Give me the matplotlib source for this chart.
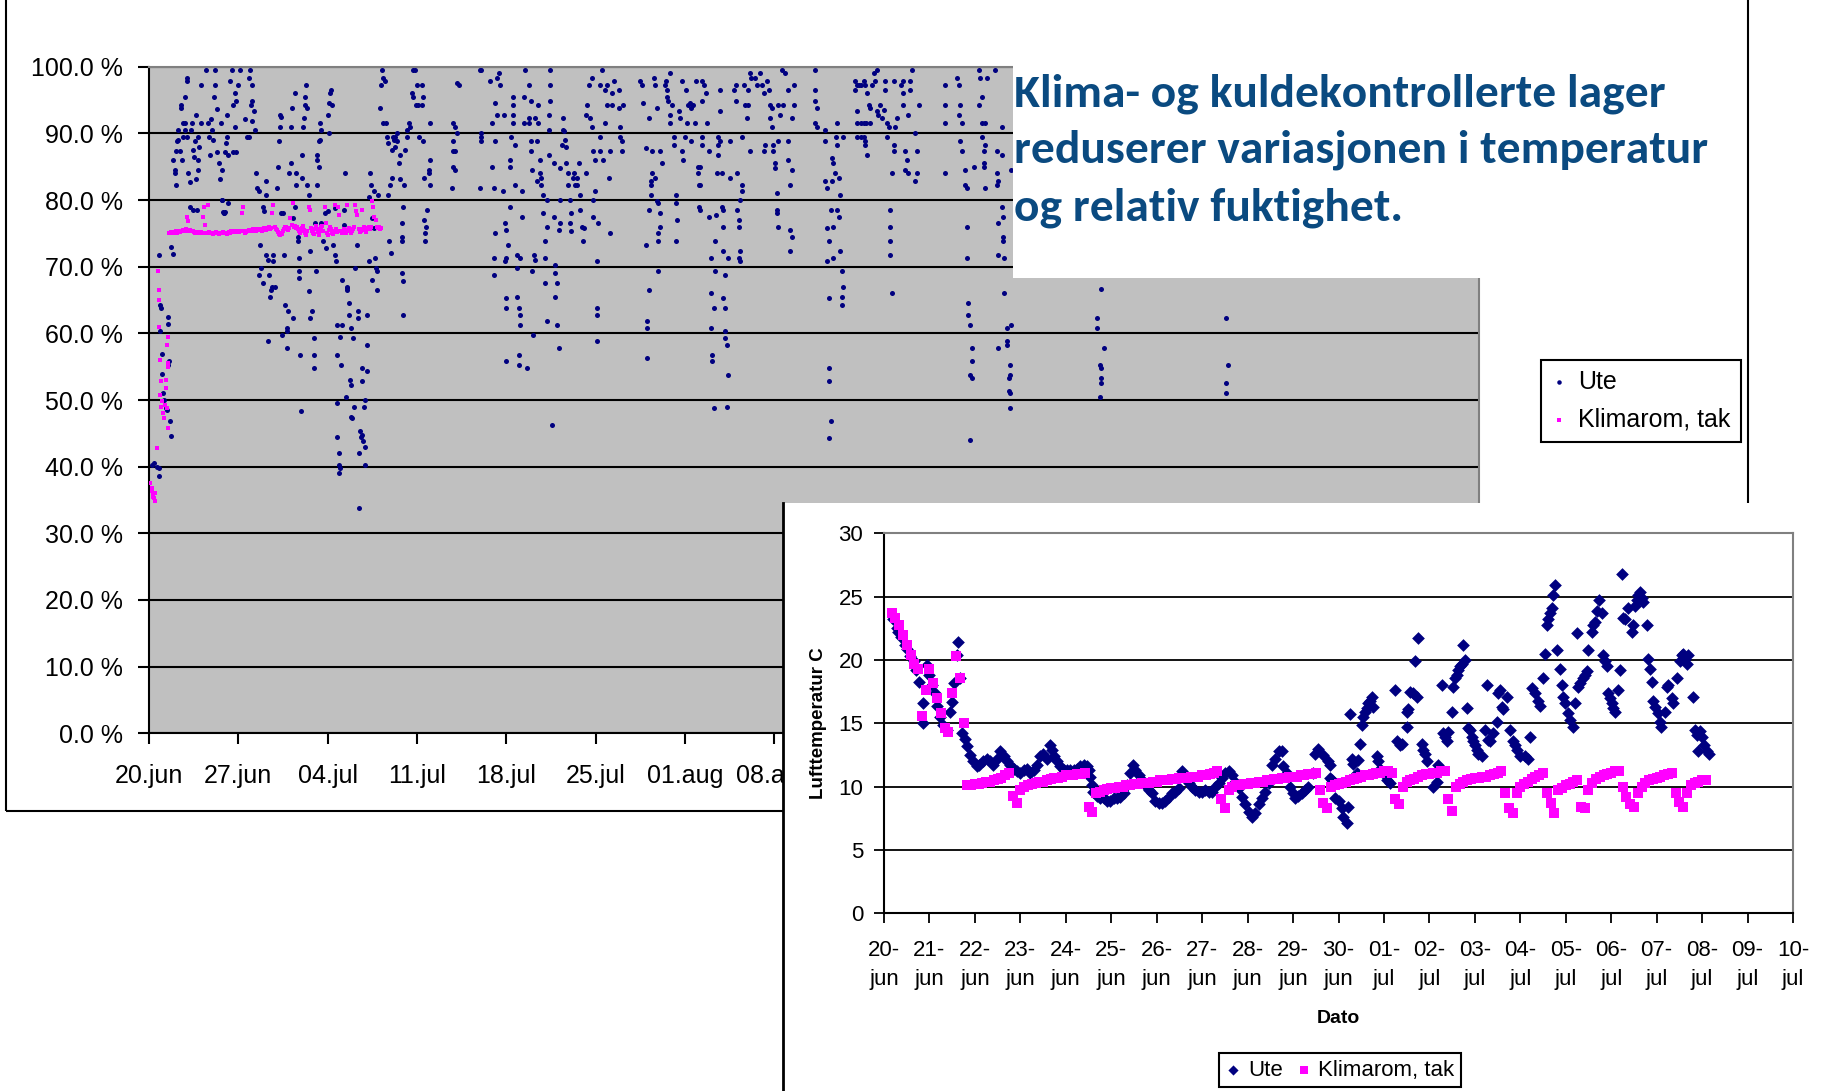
import matplotlib
matplotlib.use("Agg")
import matplotlib.pyplot as plt
from matplotlib import font_manager
from matplotlib.patches import Rectangle
from matplotlib.ticker import FuncFormatter
from matplotlib.transforms import Bbox
import numpy as np

W, H = 1825, 1091
NAVY = "#000080"
PINK = "#FF00FF"
TITLE_BLUE = "#0A4A80"

plt.rcParams["font.family"] = ["Liberation Sans", "DejaVu Sans"]

# --- relativ fuktighet, Ute: (dager etter 20.jun, %) ---
ute_rh_jun = [
    (0.2, 40.2), (0.4, 40.5), (0.6, 40.0), (0.8, 39.8), (0.8, 38.6), (0.8, 71.8), (0.85, 64.2), (0.95, 63.8),
    (0.9, 60.4), (1.05, 56.9), (1.05, 53.9), (1.1, 51.1), (1.2, 50.0), (1.3, 48.8), (1.4, 48.5), (1.5, 62.4),
    (1.45, 61.4), (1.55, 55.9), (1.5, 55.3), (1.65, 46.9), (1.7, 44.6), (1.7, 72.9), (1.85, 71.9), (1.9, 86.0),
    (2.0, 84.5), (2.05, 84.0), (2.1, 82.3), (2.1, 87.4), (2.2, 88.8), (2.3, 90.5), (2.3, 89.0), (2.4, 87.3),
    (2.5, 93.8), (2.5, 94.3), (2.55, 86.0), (2.65, 89.5), (2.7, 91.5), (2.8, 90.5), (2.85, 91.5), (2.95, 89.5),
    (3.0, 98.3), (3.0, 97.8), (2.85, 95.5), (3.05, 84.0), (3.2, 82.7), (3.3, 90.5), (3.4, 91.5), (3.45, 87.5),
    (3.55, 86.5), (3.6, 88.8), (3.65, 92.8), (3.65, 83.2), (3.8, 86.0), (3.85, 84.5), (3.85, 89.5), (3.9, 88.0),
    (4.05, 97.2), (4.1, 91.5), (4.5, 99.5), (4.65, 91.5), (4.7, 89.5), (4.8, 86.7), (4.85, 92.2), (4.9, 90.5),
    (5.05, 89.0), (5.1, 95.5), (5.2, 97.2), (5.2, 99.5), (5.3, 93.7), (5.35, 87.2), (5.5, 85.5), (5.55, 83.2),
    (5.65, 91.5), (5.7, 84.5), (5.75, 80.0), (5.8, 78.2), (5.9, 78.0), (5.95, 87.2), (6.05, 88.5), (6.1, 92.8),
    (6.15, 89.5), (6.2, 86.7), (6.35, 97.8), (6.5, 99.5), (6.55, 94.3), (6.6, 87.2), (6.7, 91.0), (6.75, 96.0),
    (6.8, 94.8), (6.85, 87.2), (6.95, 97.2), (7.1, 99.5), (7.5, 92.2), (7.65, 89.5), (7.8, 89.5), (7.85, 98.3),
    (7.9, 99.5), (8.0, 94.3), (8.05, 97.2), (8.1, 94.8), (8.2, 93.3), (8.1, 91.8), (8.3, 90.5), (3.2, 79.0),
    (3.45, 78.5), (3.75, 78.5), (5.7, 80.0), (5.85, 78.0), (5.95, 78.2), (6.2, 79.5),
    (8.35, 84.0), (8.5, 81.8), (8.6, 81.3), (8.7, 73.3), (8.8, 69.8), (8.6, 68.8), (8.9, 67.5), (8.95, 79.0),
    (9.0, 78.3), (9.15, 82.8), (9.2, 80.8), (9.2, 71.8), (9.35, 71.0), (9.4, 68.8), (9.35, 58.8), (9.55, 66.5),
    (9.5, 65.5), (9.6, 67.0), (9.75, 71.8), (9.75, 70.8), (9.9, 67.0), (10.0, 81.8), (10.1, 85.0), (10.2, 88.8),
    (10.3, 91.0), (10.3, 92.8), (10.35, 92.5), (10.35, 78.0), (10.45, 59.8), (10.5, 78.0), (10.55, 71.8),
    (10.65, 64.3), (10.8, 60.8), (10.85, 60.3), (10.9, 63.3), (10.85, 57.8), (10.95, 84.0),
]

ute_rh_jul = [
    (11.1, 91.0), (11.1, 85.5), (11.2, 93.8), (11.25, 77.3), (11.3, 62.3), (11.4, 96.0), (11.45, 79.0),
    (11.55, 84.0), (11.55, 82.3), (11.65, 74.5), (11.7, 73.8), (11.75, 71.3), (11.75, 69.3), (11.75, 68.3),
    (11.85, 56.8), (11.9, 48.3), (11.95, 83.3), (12.0, 86.8), (12.1, 91.0), (12.15, 92.3), (12.25, 94.3),
    (12.25, 95.5), (12.3, 97.3), (12.35, 93.8), (12.4, 82.3), (12.5, 66.3), (12.55, 80.8), (12.6, 72.3),
    (12.65, 62.3), (12.75, 63.3), (12.9, 59.3), (12.95, 56.8), (12.95, 54.8), (13.0, 76.5), (13.05, 69.3),
    (13.15, 86.8), (13.2, 86.0), (13.3, 85.0), (13.2, 82.3), (13.3, 88.8), (13.4, 89.0), (13.4, 91.5),
    (13.45, 90.5), (13.45, 76.5), (13.65, 73.8), (13.8, 78.0), (13.85, 72.8), (14.0, 78.3), (14.05, 92.8),
    (14.1, 94.5), (14.2, 96.0), (14.25, 96.5), (14.3, 94.3), (14.1, 90.0), (14.45, 73.3), (14.6, 71.8),
    (14.65, 70.8), (14.6, 78.8), (14.7, 61.3), (14.7, 56.8), (14.75, 49.5), (14.75, 44.5), (14.85, 42.0),
    (14.9, 40.3), (14.9, 39.0), (14.95, 39.8), (14.95, 59.5), (15.05, 55.3), (15.1, 68.0), (15.15, 61.3),
    (15.3, 76.3), (15.3, 78.5), (15.35, 84.0), (15.4, 50.5), (15.5, 66.5), (15.5, 67.0), (15.55, 66.8),
    (15.65, 64.5), (15.65, 62.8), (15.75, 53.0), (15.8, 60.8), (15.85, 52.3), (15.85, 47.5), (15.9, 47.3),
    (15.95, 59.3), (16.05, 49.0), (16.15, 69.8), (16.3, 73.3), (16.35, 63.3), (16.4, 62.3), (16.45, 42.0),
    (16.45, 33.8), (16.5, 45.3), (16.6, 44.5), (16.65, 44.8), (16.7, 54.8), (16.7, 52.8), (16.75, 43.8),
    (16.85, 49.0), (16.9, 40.3), (16.9, 50.0), (16.95, 43.0), (17.05, 62.8), (17.05, 54.3), (17.1, 58.3),
    (17.2, 70.8), (17.25, 80.5), (17.3, 84.0), (17.4, 82.3), (17.45, 68.0), (17.5, 77.3), (17.6, 81.3),
    (17.65, 75.8), (17.7, 71.3), (17.75, 69.8), (17.85, 66.5), (17.9, 69.3), (17.95, 80.8), (18.1, 93.8),
    (18.15, 97.3), (18.25, 99.5), (18.3, 98.3), (18.35, 91.5), (18.5, 97.8), (18.55, 91.5), (18.65, 89.5),
    (18.7, 88.5), (18.75, 80.8), (18.8, 73.8), (18.9, 82.3), (18.95, 72.0), (19.0, 83.3), (19.05, 87.5),
    (19.15, 89.5), (19.2, 89.0), (19.25, 89.5), (19.3, 88.0), (19.4, 90.0), (19.45, 88.8), (19.55, 85.5),
    (19.65, 86.8), (19.65, 83.2), (19.85, 69.0), (19.9, 67.8), (19.9, 62.8), (19.9, 79.0), (19.8, 76.5),
    (19.8, 74.5), (19.8, 73.8), (20.0, 82.3), (20.05, 87.5), (20.2, 89.5), (20.25, 90.5), (20.35, 91.5),
    (20.45, 91.0), (20.6, 96.0), (20.65, 95.5), (20.7, 99.5), (20.85, 99.5), (20.9, 94.3), (21.0, 97.3),
    (21.1, 94.3), (21.15, 89.5),
    (21.35, 97.3), (21.45, 95.5), (21.35, 94.3), (21.5, 88.8), (21.55, 83.3), (21.8, 78.5), (21.55, 77.0),
    (21.7, 76.0), (21.6, 75.0), (21.6, 73.8), (21.9, 84.0), (21.95, 84.5), (22.0, 82.3), (22.0, 86.0),
    (22.0, 91.5), (23.7, 81.8), (23.85, 88.8), (23.85, 87.3), (24.0, 87.3), (23.85, 85.0), (24.0, 84.5),
    (23.85, 91.5), (24.0, 91.0), (24.1, 90.0), (24.15, 97.5), (24.25, 97.3), (25.95, 81.8), (26.0, 89.5),
    (26.05, 90.0), (26.05, 88.8), (25.95, 99.5), (26.05, 99.5), (26.7, 97.8), (26.85, 91.5), (26.85, 85.0),
    (27.0, 81.8), (27.0, 71.3), (27.0, 68.8), (27.1, 94.5), (27.25, 92.8), (27.3, 98.3), (27.4, 99.0),
    (27.5, 97.3), (27.1, 75.0), (27.1, 88.8), (27.75, 81.3), (27.8, 92.8), (27.9, 76.5), (27.9, 70.8),
    (28.0, 71.3), (28.0, 65.3), (28.0, 63.8), (28.0, 75.5), (28.0, 55.8), (28.15, 73.3), (28.3, 79.0),
    (28.3, 86.0), (28.3, 85.0), (28.4, 89.5), (28.5, 94.3), (28.55, 95.5), (28.55, 92.8), (28.55, 91.5),
    (28.7, 88.3), (28.7, 82.3), (28.8, 71.8), (28.8, 69.8), (28.8, 65.5), (28.95, 63.8), (28.95, 56.8),
    (28.95, 55.3), (29.1, 62.8), (29.1, 61.3), (29.1, 71.3), (29.2, 77.5), (29.2, 81.3), (29.35, 91.5),
    (29.35, 95.5), (29.45, 99.5), (29.6, 54.8), (29.75, 91.5), (29.75, 92.3), (29.75, 97.3), (29.9, 94.8),
    (29.9, 88.8), (29.9, 87.3), (30.0, 69.3), (30.0, 84.5), (30.1, 59.8), (30.2, 71.8), (30.25, 71.0),
    (30.25, 92.3), (30.4, 88.8), (30.4, 82.8), (30.5, 94.3), (30.5, 91.5), (30.65, 86.0), (30.65, 84.0),
    (30.7, 83.3), (30.75, 82.3), (30.9, 80.8), (30.9, 78.0), (31.0, 73.8), (31.0, 71.3), (31.0, 67.5),
    (31.15, 76.0), (31.15, 61.8), (31.15, 80.0), (31.3, 86.8), (31.3, 90.5), (31.3, 92.8), (31.4, 97.3),
    (31.4, 99.5), (31.4, 94.8), (31.55, 46.3), (31.7, 77.5), (31.7, 85.5), (31.8, 70.3), (31.8, 69.0),
    (31.8, 65.5), (31.95, 67.5), (31.95, 61.3), (32.1, 57.8), (32.1, 75.5), (32.2, 76.5), (32.2, 80.0),
    (32.2, 84.8), (32.35, 88.3), (32.45, 92.3), (32.45, 90.5), (32.5, 90.3), (32.6, 89.0), (32.7, 88.0),
    (32.7, 85.5), (32.85, 84.0), (32.85, 82.3), (32.95, 80.0), (33.0, 76.5), (33.1, 75.3), (33.1, 78.0),
    (33.25, 83.3), (33.3, 84.0), (33.35, 82.3), (33.5, 83.3), (33.55, 82.3), (33.65, 85.5), (33.8, 80.8),
    (33.8, 78.5), (33.9, 76.0), (34.0, 73.8), (34.05, 75.8), (34.2, 84.0), (34.25, 92.8), (34.3, 94.3),
    (34.45, 97.3), (34.55, 92.3), (34.7, 91.0), (34.7, 98.3), (34.8, 87.3), (34.8, 80.0), (34.8, 77.5),
    (34.95, 86.0), (34.95, 81.3), (35.1, 70.8), (35.1, 63.8), (35.1, 62.8), (35.1, 58.8), (35.2, 76.5),
    (35.35, 87.3), (35.35, 89.5), (35.35, 97.3), (35.5, 99.5), (35.6, 86.0), (35.75, 96.5), (35.75, 91.5),
    (35.85, 94.3), (35.9, 97.3), (36.0, 83.3), (36.1, 87.3), (36.15, 75.0), (36.25, 96.0), (36.25, 94.3),
    (36.4, 97.8), (36.8, 96.5), (36.8, 93.8), (36.9, 91.0), (36.9, 89.5), (37.05, 88.8), (37.05, 87.3),
    (37.15, 94.3),
    (38.5, 97.8), (38.6, 97.3), (38.7, 94.5), (38.9, 87.8), (38.9, 73.3), (39.0, 61.8), (39.0, 60.8),
    (39.0, 56.3), (39.15, 92.3), (39.15, 66.5), (39.2, 78.5), (39.3, 82.8), (39.3, 82.3), (39.3, 80.8),
    (39.4, 84.0), (39.4, 87.3), (39.55, 98.3), (39.65, 97.3), (39.65, 83.3), (39.8, 93.8), (39.8, 79.8),
    (39.85, 79.5), (39.9, 73.8), (39.9, 75.0), (39.9, 69.3), (40.05, 87.3), (40.05, 76.0), (40.05, 78.0),
    (40.2, 85.5), (40.45, 97.3), (40.5, 97.8), (40.55, 96.5), (40.6, 95.5), (40.7, 94.8), (40.8, 99.0),
    (40.8, 92.8), (40.8, 91.5), (40.95, 94.3), (41.1, 89.5), (41.1, 88.3), (41.25, 80.8), (41.25, 79.5),
    (41.35, 77.0), (41.25, 73.8), (41.5, 93.3), (41.6, 92.3), (41.75, 87.3), (41.75, 97.8), (41.85, 86.0),
]

ute_rh_aug_sep = [
    (42.0, 89.5), (42.1, 96.5), (42.15, 91.5), (42.25, 94.3), (42.4, 94.5), (42.5, 93.8), (42.5, 88.8),
    (42.65, 94.3), (42.8, 91.5), (42.85, 97.8), (43.05, 84.0), (43.05, 85.0), (43.1, 82.3), (43.1, 79.0),
    (43.3, 97.8), (43.45, 97.3), (43.6, 96.0), (43.3, 94.8), (43.7, 91.5), (43.3, 89.5), (43.3, 88.3),
    (43.2, 85.0), (43.2, 82.3), (43.2, 78.5), (43.85, 87.3), (43.85, 77.5), (44.0, 71.3), (44.0, 66.0),
    (44.0, 60.8), (44.1, 56.8), (44.1, 55.8), (44.25, 48.8), (44.25, 63.8), (44.35, 73.8), (44.35, 69.3),
    (44.45, 77.8), (44.5, 84.0), (44.6, 89.5), (44.6, 88.3), (44.6, 86.8), (44.75, 96.5), (44.75, 93.3),
    (44.75, 88.8), (44.9, 84.0), (44.9, 79.0), (45.0, 78.5), (45.0, 76.0), (45.0, 72.3), (45.0, 65.3),
    (45.15, 63.8), (45.15, 68.8), (45.15, 60.3), (45.15, 59.3), (45.25, 58.3), (45.25, 49.0), (45.4, 71.3),
    (45.4, 53.8), (45.55, 88.8), (45.55, 83.3), (45.8, 96.5), (45.95, 94.8), (45.95, 97.3), (46.05, 84.0),
    (46.05, 78.5), (46.2, 77.0), (46.2, 76.0), (46.2, 71.3), (46.3, 70.8), (46.3, 72.3), (46.3, 80.0),
    (46.45, 81.3), (46.45, 82.3), (46.45, 89.5), (46.6, 97.3), (46.7, 94.3), (46.85, 92.3), (46.95, 94.3),
    (46.95, 96.5), (47.1, 99.0), (47.1, 87.3), (47.2, 98.3), (47.5, 98.3), (47.6, 97.3), (47.9, 99.0),
    (48.0, 97.3), (48.15, 96.0), (48.15, 87.3), (48.3, 88.3), (48.4, 97.8), (48.55, 96.5), (48.65, 94.3),
    (48.65, 92.3), (48.8, 93.8), (48.8, 91.0), (48.9, 88.3), (48.9, 87.3), (49.05, 85.5), (49.05, 84.8),
    (49.2, 81.0), (49.2, 78.5), (49.2, 78.0), (49.3, 94.3), (49.3, 88.8), (49.3, 76.0), (49.45, 92.8),
    (49.6, 99.5), (49.7, 94.3), (49.85, 99.0), (50.1, 96.5), (50.1, 88.8), (50.1, 86.0), (50.25, 82.3),
    (50.25, 75.5), (50.35, 84.5), (50.35, 74.5), (50.25, 72.3), (50.5, 97.3), (50.5, 94.3), (50.35, 92.3),
    (52.2, 99.5), (52.2, 96.5), (52.2, 94.8), (52.3, 93.8), (52.2, 91.5), (52.35, 91.0), (52.95, 90.5),
    (52.95, 88.8), (52.95, 82.8), (53.1, 81.8), (53.1, 75.8), (53.1, 70.8), (53.25, 73.8), (53.25, 65.3),
    (53.25, 54.8), (53.25, 52.8), (53.4, 46.8), (53.25, 44.3), (53.4, 78.5), (53.5, 86.3), (53.5, 82.8),
    (53.6, 85.5), (53.6, 76.0), (53.6, 71.3), (53.75, 84.0), (53.85, 89.5), (53.9, 91.5), (53.9, 88.3),
    (53.9, 78.5), (54.05, 83.3), (54.05, 77.5), (54.15, 80.8), (54.15, 72.3), (54.3, 69.3), (54.3, 65.5),
    (54.3, 64.3), (54.4, 89.5), (54.4, 67.0), (55.3, 97.8), (55.45, 97.3), (55.6, 97.3), (55.75, 97.3),
    (56.0, 97.8), (56.1, 97.3), (55.3, 96.5), (55.45, 93.3), (55.45, 91.5), (55.75, 91.5), (56.0, 91.5),
    (56.2, 91.5), (56.5, 91.5), (55.45, 89.5), (55.75, 89.5), (56.0, 89.5), (56.1, 88.8), (56.1, 88.3),
    (56.25, 86.8), (56.25, 96.0), (56.4, 94.3), (56.5, 93.8), (56.65, 97.3), (56.8, 99.0), (56.9, 97.8),
    (57.0, 99.5), (57.0, 93.3), (57.15, 92.8), (57.3, 94.3), (57.4, 92.3), (57.55, 93.5), (57.7, 96.5),
    (57.7, 97.8), (57.8, 91.5), (57.95, 91.0), (57.8, 89.5), (58.05, 78.5), (58.05, 76.0), (58.05, 73.8),
    (58.05, 71.8), (58.2, 66.0), (58.2, 84.0), (58.35, 97.8), (58.35, 88.3), (58.35, 87.3), (58.45, 91.0),
    (58.6, 92.3), (58.9, 97.3), (59.1, 97.8), (59.1, 96.0), (59.1, 94.3), (59.25, 87.3), (59.25, 84.5),
    (59.4, 86.0), (59.5, 92.8), (59.5, 84.0), (59.65, 97.8), (59.65, 96.5), (59.8, 99.5), (60.05, 90.0),
    (60.2, 87.3), (60.2, 84.0), (60.05, 82.8), (60.3, 94.3),
    (62.4, 97.3), (62.4, 94.3), (62.4, 91.5), (62.4, 84.0), (63.3, 98.3), (63.45, 97.3), (63.55, 94.3),
    (63.45, 92.8), (63.7, 91.5), (63.55, 88.8), (63.7, 87.3), (63.95, 84.5), (63.95, 82.3), (64.1, 81.8),
    (64.1, 76.0), (64.1, 71.3), (64.2, 64.5), (64.2, 62.8), (64.35, 61.3), (64.45, 57.8), (64.45, 55.8),
    (64.35, 53.8), (64.45, 53.3), (64.35, 44.0), (64.6, 85.0), (65.0, 99.5), (65.1, 98.3), (65.25, 95.5),
    (65.0, 94.3), (65.25, 91.5), (65.5, 91.5), (65.25, 89.5), (65.5, 88.3), (65.4, 87.3), (65.4, 85.5),
    (65.4, 85.0), (65.5, 81.8), (65.65, 98.3), (66.3, 99.5), (66.4, 87.3), (66.8, 86.8), (66.8, 91.0),
    (66.4, 84.0), (66.4, 82.3), (66.55, 82.8), (66.55, 76.5), (66.8, 79.0), (66.9, 77.5), (66.9, 74.5),
    (66.9, 73.8), (66.55, 71.8), (67.0, 71.3), (67.0, 66.0), (67.2, 60.8), (67.55, 61.3), (67.2, 58.8),
    (67.2, 58.3), (66.55, 57.8), (67.45, 55.3), (67.35, 53.3), (67.45, 53.8), (67.35, 51.3), (67.45, 51.0),
    (67.45, 48.8), (67.5, 84.5),
    (74.6, 66.6), (74.3, 62.3), (74.3, 60.8), (74.8, 57.8), (74.5, 55.2), (74.55, 54.8), (74.6, 53.3),
    (74.6, 52.6), (74.5, 50.5), (84.4, 62.3), (84.5, 55.3), (84.4, 52.5), (84.4, 51.0),
]

# --- relativ fuktighet, Klimarom tak ---
# forste doegn (dag, %)
klima_rh_start = [
    (0.1, 37.5), (0.2, 36.8), (0.25, 36.3), (0.3, 35.8), (0.35, 35.5), (0.4, 35.3), (0.45, 34.8), (0.5, 36.0),
    (0.6, 42.8), (0.7, 69.4), (0.75, 66.5), (0.75, 65.0), (0.75, 61.0), (0.85, 56.0), (0.85, 50.8), (0.95, 52.8),
    (0.95, 49.0), (1.0, 49.8), (1.1, 48.0), (1.2, 47.3), (1.25, 49.3), (1.3, 53.0), (1.3, 51.8), (1.4, 58.3),
    (1.4, 48.8), (1.45, 59.5), (1.45, 55.5), (1.5, 55.0), (1.5, 45.8),
]
# deretter hver 2. time fra dag 1.58
klima_rh_t0 = 1.5 + 1 / 12
klima_rh = [
    75.1, 75.0, 75.2, 75.1, 75.0, 75.2, 75.3, 75.1, 75.2, 75.3, 75.2, 75.4,
    75.3, 75.5, 75.4, 75.3, 75.6, 77.5, 76.8, 75.4, 75.5, 75.3, 75.4, 75.2,
    75.1, 75.0, 75.2, 75.1, 75.0, 75.1, 75.2, 75.0, 77.5, 79.0, 76.3, 75.1,
    79.3, 75.2, 75.0, 75.1, 75.0, 74.9, 75.1, 75.0, 75.2, 75.1, 75.0, 74.9,
    75.0, 75.1, 75.0, 75.2, 75.1, 75.0, 74.9, 75.1, 75.2, 75.1, 75.3, 75.2,
    75.3, 75.4, 75.2, 75.3, 75.4, 75.3, 75.2, 75.4, 78.0, 79.0, 75.3, 75.1,
    75.2, 75.4, 75.3, 75.5, 75.4, 75.3, 75.5, 75.6, 75.4, 75.5, 75.3, 75.6,
    75.5, 75.7, 75.6, 75.4, 75.7, 75.8, 75.6, 75.5, 75.8, 75.7, 75.9, 75.6,
    75.8, 78.0, 79.3, 75.9, 75.7, 75.5, 75.2, 74.9, 74.8, 75.1, 74.9, 75.3,
    75.6, 75.9, 76.0, 75.7, 75.5, 75.8, 77.3, 76.2, 79.5, 75.9, 76.1, 75.8,
    76.0, 75.6, 75.3, 75.0, 75.4, 75.8, 76.1, 75.5, 75.0, 74.8, 75.3, 79.0,
    78.5, 75.8, 75.4, 75.0, 74.9, 75.6, 76.1, 75.7, 75.2, 74.8, 75.3, 75.9,
    76.1, 75.4, 79.0, 76.5, 75.0, 74.8, 75.5, 76.0, 75.6, 75.0, 74.9, 75.4,
    79.3, 75.6, 75.2, 79.0, 77.8, 75.4, 75.0, 75.2, 75.6, 75.3, 75.1, 79.3,
    75.5, 75.8, 75.3, 75.0, 75.4, 75.7, 76.0, 79.3, 78.3, 77.8, 75.6, 75.2,
    75.4, 78.5, 75.6, 75.9, 75.5, 75.2, 75.6, 75.8, 76.0, 75.7, 75.9, 79.8,
    79.0, 77.5, 77.0, 76.0, 75.8, 75.9, 75.7, 75.8,
]

# --- lufttemperatur, Ute: (dag, grader C) ---
ute_temp = [
    (0.2, 23.2), (0.28, 22.5), (0.3, 22.2), (0.38, 21.8), (0.46, 21.2), (0.5, 20.9), (0.57, 20.3), (0.65, 19.9),
    (0.7, 19.2), (0.78, 18.3), (0.85, 16.6), (0.85, 15.0), (0.94, 19.6), (1.0, 18.8), (1.05, 18.0), (1.12, 17.4),
    (1.16, 16.4), (1.23, 15.5), (1.3, 14.9), (1.38, 14.5), (1.45, 15.9), (1.5, 16.7), (1.54, 18.2), (1.6, 20.4),
    (1.62, 21.4), (1.67, 18.6), (1.71, 14.2), (1.78, 13.8), (1.83, 13.2), (1.9, 12.5), (1.96, 12.0), (2.04, 11.6),
    (2.1, 11.7), (2.18, 12.0), (2.26, 12.2), (2.33, 12.0), (2.4, 11.7), (2.48, 12.2), (2.55, 12.8), (2.63, 12.4),
    (2.7, 12.0), (2.77, 11.7), (2.85, 11.4), (2.92, 11.2), (3.0, 11.1), (3.07, 11.3), (3.14, 11.4), (3.21, 11.1),
    (3.29, 11.3), (3.36, 11.7), (3.43, 12.4), (3.5, 12.6), (3.58, 12.2), (3.65, 13.3), (3.69, 12.9), (3.73, 12.4),
    (3.8, 12.0), (3.87, 11.6), (3.95, 11.3), (4.02, 11.3), (4.09, 11.3), (4.17, 11.3), (4.24, 11.4), (4.31, 11.6),
    (4.39, 11.7), (4.46, 11.6), (4.5, 11.3), (4.53, 10.8), (4.57, 10.1), (4.6, 9.6), (4.68, 9.3), (4.75, 9.1),
    (4.83, 9.1), (4.9, 8.9), (4.97, 8.9), (5.05, 9.1), (5.12, 9.1), (5.19, 9.2), (5.27, 9.5), (5.34, 10.1),
    (5.41, 11.1), (5.47, 11.7), (5.52, 11.3), (5.6, 10.9), (5.67, 10.5), (5.74, 10.1), (5.82, 9.7), (5.89, 9.5),
    (5.96, 8.9), (6.04, 8.7), (6.11, 8.7), (6.18, 8.9), (6.26, 9.2), (6.33, 9.5), (6.4, 9.6), (6.48, 9.9),
    (6.55, 11.2), (6.62, 10.7), (6.7, 10.3), (6.77, 10.0), (6.84, 9.7), (6.92, 9.6), (6.99, 9.6), (7.06, 9.7),
    (7.14, 9.6), (7.21, 9.6), (7.28, 10.0), (7.36, 10.3), (7.43, 10.7), (7.5, 11.1), (7.58, 11.2), (7.65, 10.9),
    (7.72, 10.4), (7.8, 9.9), (7.87, 9.2), (7.94, 8.6), (8.02, 8.0), (8.09, 7.6), (8.16, 7.9), (8.24, 8.6),
    (8.31, 9.1), (8.38, 9.6), (8.46, 10.3), (8.53, 11.7), (8.6, 12.2), (8.68, 12.8),
    (8.75, 12.8), (8.78, 11.6), (8.86, 11.1), (8.93, 10.0), (9.0, 9.5), (9.04, 9.1), (9.11, 9.3), (9.19, 9.5),
    (9.26, 9.7), (9.33, 10.0), (9.44, 11.1), (9.48, 12.6), (9.55, 13.0), (9.66, 12.5), (9.77, 12.0), (9.81, 11.7),
    (9.81, 10.7), (9.85, 10.5), (9.92, 9.1), (10.0, 8.9), (10.07, 8.3), (10.1, 7.6), (10.18, 7.1), (10.21, 8.4),
    (10.25, 15.7), (10.29, 12.2), (10.32, 11.8), (10.4, 11.1), (10.43, 12.1), (10.47, 13.4), (10.51, 14.9),
    (10.54, 15.5), (10.58, 15.9), (10.62, 16.2), (10.65, 16.6), (10.69, 16.8), (10.73, 17.1), (10.76, 16.3),
    (10.84, 12.4), (10.87, 12.0), (10.91, 11.4), (10.98, 11.1), (11.06, 10.5), (11.13, 10.3), (11.24, 17.6),
    (11.28, 13.6), (11.35, 13.3), (11.39, 13.4), (11.5, 14.7), (11.5, 15.9), (11.53, 16.1), (11.57, 17.5),
    (11.64, 17.4), (11.72, 17.1), (11.68, 19.9), (11.75, 21.7), (11.83, 13.4), (11.86, 12.9), (11.9, 12.6),
    (11.94, 12.0), (12.08, 10.0), (12.16, 10.4), (12.19, 11.7), (12.27, 18.0), (12.3, 14.2), (12.34, 13.9),
    (12.38, 13.6), (12.41, 14.3), (12.49, 15.9), (12.52, 17.9), (12.56, 18.6), (12.6, 18.8), (12.63, 19.2),
    (12.67, 19.5), (12.71, 19.7), (12.74, 21.2), (12.78, 20.0), (12.82, 16.2), (12.85, 14.6), (12.89, 14.5),
    (12.93, 13.9), (12.96, 13.6), (13.0, 13.3), (13.04, 12.9), (13.07, 12.6), (13.15, 12.4), (13.22, 14.5),
    (13.26, 18.0), (13.29, 13.7), (13.33, 13.6), (13.4, 14.2), (13.48, 15.1), (13.51, 17.4), (13.55, 17.6),
    (13.59, 16.3), (13.62, 16.1), (13.7, 17.1), (13.77, 14.5), (13.84, 13.6), (13.88, 13.3), (13.92, 12.9),
    (13.99, 12.4), (14.1, 12.4), (14.17, 12.2), (14.21, 13.9), (14.25, 17.8), (14.32, 17.4), (14.39, 16.8),
    (14.43, 16.4), (14.5, 18.6), (14.54, 20.5), (14.58, 22.8), (14.61, 23.2), (14.65, 23.7), (14.69, 24.1),
    (14.72, 25.1), (14.76, 25.9), (14.8, 20.8), (14.87, 19.3), (14.91, 18.0), (14.94, 17.1), (14.98, 16.6),
    (15.05, 15.8), (15.09, 15.3), (15.16, 14.7), (15.2, 16.6), (15.24, 22.1), (15.27, 17.9), (15.31, 18.2),
    (15.38, 18.6), (15.42, 18.8), (15.46, 19.1), (15.5, 20.8), (15.57, 22.2), (15.6, 22.8), (15.64, 23.0),
    (15.68, 23.9), (15.74, 24.7), (15.79, 23.7), (15.82, 20.4), (15.86, 19.9), (15.9, 19.5), (15.93, 17.4),
    (15.97, 17.0), (16.01, 16.6), (16.04, 16.2), (16.08, 15.9), (16.15, 17.6), (16.19, 19.2), (16.23, 26.8),
    (16.26, 23.3), (16.3, 23.2), (16.38, 24.1), (16.45, 22.2), (16.48, 22.8), (16.52, 24.3), (16.56, 24.7),
    (16.59, 25.1), (16.63, 25.4), (16.67, 24.9), (16.7, 24.6), (16.78, 22.8), (16.81, 20.1), (16.85, 19.3),
    (16.89, 18.3), (16.92, 16.8), (16.96, 16.3), (17.03, 15.8), (17.07, 15.1), (17.1, 14.7), (17.18, 15.9),
    (17.22, 17.9), (17.25, 18.0), (17.33, 17.0), (17.36, 16.6), (17.44, 18.6), (17.51, 19.9), (17.55, 20.4),
    (17.58, 20.5), (17.62, 20.1), (17.66, 19.7), (17.69, 20.4), (17.8, 17.1), (17.84, 14.5), (17.88, 14.1),
    (17.91, 12.8), (17.95, 14.4), (18.0, 13.9), (18.05, 13.3), (18.1, 12.8), (18.15, 12.6),
]

# --- lufttemperatur, Klimarom tak: hver 2. time fra 20.jun kl 04 ---
klima_temp_t0 = 1 / 6
klima_temp = [
    23.7, 23.3, 22.8, 22.0, 21.2, 20.4, 19.7, 19.3, 15.6, 17.6, 19.3, 18.2,
    17.0, 15.8, 14.6, 14.3, 17.4, 20.3, 18.6, 15.0, 10.1, 10.1, 10.2, 10.2,
    10.3, 10.4, 10.4, 10.5, 10.6, 10.7, 10.9, 11.1, 9.3, 8.7, 9.7, 10.0,
    10.1, 10.2, 10.3, 10.4, 10.4, 10.5, 10.6, 10.7, 10.7, 10.8, 10.9, 10.9,
    10.9, 11.0, 11.0, 11.1, 8.4, 8.0, 9.5, 9.6, 9.7, 9.8, 9.9, 9.9,
    10.0, 10.0, 10.1, 10.1, 10.2, 10.2, 10.3, 10.3, 10.3, 10.4, 10.4, 10.5,
    10.5, 10.5, 10.6, 10.6, 10.7, 10.7, 10.7, 10.8, 10.8, 10.8, 10.9, 10.9,
    11.0, 11.1, 11.2, 9.0, 8.3, 9.7, 10.0, 10.1, 10.1, 10.2, 10.2, 10.3,
    10.3, 10.4, 10.4, 10.5, 10.5, 10.6, 10.6, 10.7, 10.7, 10.8, 10.8, 10.8,
    10.9, 10.9, 11.0, 11.0, 11.1, 9.7, 8.7, 8.3, 10.0, 10.1, 10.2, 10.3,
    10.4, 10.5, 10.6, 10.7, 10.8, 10.9, 10.9, 11.0, 11.1, 11.1, 11.2, 11.2,
    11.1, 9.0, 8.6, 10.0, 10.4, 10.5, 10.6, 10.8, 10.9, 11.0, 11.0, 11.1,
    11.1, 11.2, 11.2, 9.0, 8.1, 10.0, 10.2, 10.4, 10.5, 10.6, 10.7, 10.7,
    10.8, 10.8, 10.9, 11.0, 11.1, 11.2, 9.5, 8.3, 7.9, 9.5, 10.0, 10.2,
    10.4, 10.6, 10.8, 10.9, 11.1, 9.5, 8.7, 7.9, 9.7, 9.9, 10.1, 10.2,
    10.4, 10.5, 8.4, 8.3, 9.7, 10.3, 10.6, 10.8, 10.9, 11.0, 11.1, 11.2,
    11.2, 10.0, 9.2, 8.6, 8.4, 9.5, 10.0, 10.3, 10.5, 10.6, 10.7, 10.8,
    10.9, 11.0, 11.1, 9.5, 8.8, 8.4, 9.5, 10.1, 10.3, 10.4, 10.5, 10.5,
]

rh_ticklabels = ["20.jun", "27.jun", "04.jul", "11.jul", "18.jul", "25.jul", "01.aug", "08.aug",
                 "15.aug", "22.aug", "29.aug", "05.sep", "12.sep", "19.sep", "26.sep"]
temp_tick_days = ["20", "21", "22", "23", "24", "25", "26", "27", "28", "29", "30",
                  "01", "02", "03", "04", "05", "06", "07", "08", "09", "10"]
temp_tick_months = ["jun"] * 11 + ["jul"] * 10

title_lines = ["Klima- og kuldekontrollerte lager",
               "reduserer variasjonen i temperatur",
               "og relativ fuktighet."]


def fig_box(x0, y0, x1, y1):
    # pixelboks (origo oppe til venstre) -> figurbrok
    return [x0 / W, 1 - y1 / H, (x1 - x0) / W, (y1 - y0) / H]


def style_spines(ax):
    for side in ("left", "bottom"):
        ax.spines[side].set_color("black")
        ax.spines[side].set_linewidth(1.5)
    for side in ("top", "right"):
        ax.spines[side].set_color("#808080")
        ax.spines[side].set_linewidth(1.5)


fig = plt.figure(figsize=(W / 100, H / 100), dpi=100)

# ytre ramme rundt bakgrunnsdiagrammet
fig.add_artist(Rectangle((6 / W, 1 - 811 / H), (1748 - 6) / W, 811 / H + 0.05,
                         transform=fig.transFigure, fill=False, ec="black", lw=1.5, zorder=0.5))

# --- bakgrunn: relativ fuktighet ---
ax1 = fig.add_axes(fig_box(149, 66.7, 1479, 733.3), zorder=1)
ax1.set_facecolor("#C0C0C0")
ute_rh = ute_rh_jun + ute_rh_jul + ute_rh_aug_sep
ax1.scatter([p[0] for p in ute_rh], [p[1] for p in ute_rh], s=13, marker="o",
            color=NAVY, lw=0, label="Ute", zorder=3)
k_days = [p[0] for p in klima_rh_start] + list(klima_rh_t0 + np.arange(len(klima_rh)) / 12)
k_vals = [p[1] for p in klima_rh_start] + klima_rh
ax1.scatter(k_days, k_vals, s=9, marker="s", color=PINK, lw=0, label="Klimarom, tak", zorder=3)
ax1.set_xlim(0, 104.2)
ax1.set_ylim(0, 100)
ax1.set_yticks(np.arange(0, 101, 10))
ax1.yaxis.set_major_formatter(FuncFormatter(lambda v, p: f"{v:.1f} %"))
ax1.set_xticks(np.arange(len(rh_ticklabels)) * 7)
ax1.set_xticklabels(rh_ticklabels)
ax1.grid(axis="y", color="black", lw=1.5)
ax1.set_axisbelow(True)
style_spines(ax1)
ax1.tick_params(axis="both", direction="out", length=8, width=1.5, labelsize=18)
ax1.tick_params(axis="y", pad=11)
ax1.tick_params(axis="x", pad=14)
# datoetikettene under det innfelte diagrammet klippes ved kanten
clip = Bbox.from_extents(0, 0, 783, H)
for lbl in ax1.get_xticklabels():
    lbl.set_clip_box(clip)
    lbl.set_clip_on(True)

leg1 = ax1.legend(loc="upper left", bbox_to_anchor=(1541 / W, 1 - 360 / H), bbox_transform=fig.transFigure,
                  fontsize=18, frameon=True, fancybox=False, edgecolor="black", framealpha=1,
                  borderpad=0.4, labelspacing=0.55, handlelength=0.6, handletextpad=0.5,
                  borderaxespad=0, markerscale=0.9)
leg1.get_frame().set_linewidth(1.5)

# --- tittelboks ---
tax = fig.add_axes(fig_box(1013, 20, 1730, 278), zorder=2)
tax.set_facecolor("white")
tax.set_xticks([])
tax.set_yticks([])
for sp in tax.spines.values():
    sp.set_visible(False)

avail = {f.name for f in font_manager.fontManager.ttflist}
title_font = next((f for f in ["Carlito", "Liberation Sans Narrow", "Lato", "Open Sans"] if f in avail),
                  "DejaVu Sans")
title_texts = []
for line, yb in zip(title_lines, [106, 163, 221]):
    title_texts.append(fig.text(1014 / W, 1 - yb / H, line, fontsize=32, fontweight="bold",
                                color=TITLE_BLUE, family=[title_font, "DejaVu Sans"],
                                ha="left", va="baseline", zorder=5))
fig.canvas.draw()
renderer = fig.canvas.get_renderer()
w2 = title_texts[1].get_window_extent(renderer).width
for t in title_texts:
    t.set_fontsize(32 * 694 / w2)

# --- innfelt diagram: lufttemperatur ---
iax = fig.add_axes(fig_box(783, 503, W + 10, H + 10), zorder=3)
iax.set_facecolor("white")
iax.set_xticks([])
iax.set_yticks([])
for side, sp in iax.spines.items():
    sp.set_visible(side == "left")
iax.spines["left"].set_linewidth(2)
iax.spines["left"].set_color("black")

ax2 = fig.add_axes(fig_box(884, 533.3, 1793, 913.3), zorder=4)
ax2.set_facecolor("white")
ax2.scatter([p[0] for p in ute_temp], [p[1] for p in ute_temp], s=42, marker="D",
            color=NAVY, lw=0, label="Ute", zorder=3)
kt_days = klima_temp_t0 + np.arange(len(klima_temp)) / 12
ax2.scatter(kt_days, klima_temp, s=58, marker="s", color=PINK, lw=0, label="Klimarom, tak", zorder=3)
ax2.set_xlim(0, 20)
ax2.set_ylim(0, 30)
ax2.set_yticks(np.arange(0, 31, 5))
ax2.set_xticks(np.arange(len(temp_tick_days)))
ax2.set_xticklabels([f"{d}-\n{m}" for d, m in zip(temp_tick_days, temp_tick_months)])
for lbl in ax2.get_xticklabels():
    lbl.set_linespacing(1.55)
ax2.grid(axis="y", color="black", lw=1.3)
ax2.set_axisbelow(True)
style_spines(ax2)
ax2.tick_params(axis="both", direction="out", length=7, width=1.3, labelsize=16)
ax2.tick_params(axis="y", pad=8)
ax2.tick_params(axis="x", pad=12)
ax2.set_ylabel("Lufttemperatur C", fontsize=13.5, fontweight="bold")
ax2.yaxis.set_label_coords(-0.063, 0.5)
ax2.set_xlabel("Dato", fontsize=14, fontweight="bold")
ax2.xaxis.set_label_coords(0.5, -0.255)

leg2 = ax2.legend(loc="upper center", bbox_to_anchor=(1340 / W, 1 - 1053 / H), bbox_transform=fig.transFigure,
                  ncol=2, fontsize=16, frameon=True, fancybox=False, edgecolor="black", framealpha=1,
                  borderpad=0.3, handlelength=0.7, handletextpad=0.3, columnspacing=0.6, borderaxespad=0,
                  markerscale=0.8)
leg2.get_frame().set_linewidth(1.5)

fig.savefig("out.png", dpi=100)
